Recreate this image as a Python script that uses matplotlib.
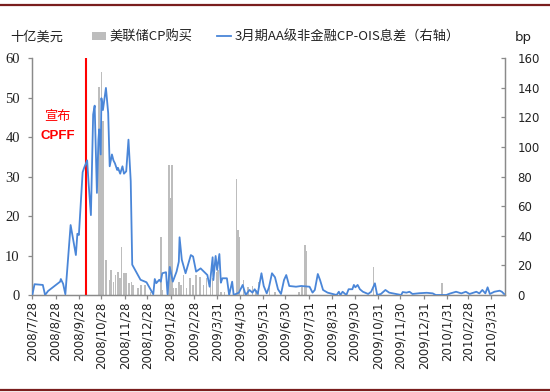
import pandas as pd
import numpy as np
import matplotlib
matplotlib.use('Agg')
import matplotlib.pyplot as plt
from matplotlib.lines import Line2D
from matplotlib.patches import Patch

plt.rcParams['font.family'] = ['Noto Sans CJK SC', 'DejaVu Sans']

# 3月期AA级非金融CP-OIS息差 (bp, 右轴)
spread_dates = [
    '2008-07-28', '2008-07-31', '2008-08-11', '2008-08-14', '2008-08-18', '2008-09-03',
    '2008-09-04', '2008-09-07', '2008-09-10', '2008-09-17', '2008-09-24', '2008-09-26',
    '2008-09-28', '2008-10-03', '2008-10-05', '2008-10-09', '2008-10-11', '2008-10-14',
    '2008-10-17', '2008-10-19', '2008-10-22', '2008-10-24', '2008-10-25', '2008-10-27',
    '2008-10-28', '2008-10-30', '2008-11-03', '2008-11-06', '2008-11-08', '2008-11-11',
    '2008-11-13', '2008-11-15', '2008-11-18', '2008-11-19', '2008-11-22', '2008-11-25',
    '2008-11-27', '2008-11-30', '2008-12-03', '2008-12-06', '2008-12-08', '2008-12-19',
    '2008-12-27', '2009-01-05', '2009-01-07', '2009-01-09', '2009-01-13', '2009-01-15',
    '2009-01-17', '2009-01-22', '2009-01-24', '2009-01-27', '2009-01-31', '2009-02-05',
    '2009-02-08', '2009-02-09', '2009-02-12', '2009-02-17', '2009-02-24', '2009-02-27',
    '2009-03-03', '2009-03-09', '2009-03-18', '2009-03-21', '2009-03-25', '2009-03-26',
    '2009-03-29', '2009-03-31', '2009-04-03', '2009-04-05', '2009-04-07', '2009-04-13',
    '2009-04-16', '2009-04-20', '2009-04-22', '2009-04-29', '2009-05-04', '2009-05-08',
    '2009-05-13', '2009-05-17', '2009-05-20', '2009-05-24', '2009-05-29', '2009-06-01',
    '2009-06-05', '2009-06-08', '2009-06-12', '2009-06-16', '2009-06-20', '2009-06-24',
    '2009-06-28', '2009-07-01', '2009-07-05', '2009-07-14', '2009-07-21', '2009-08-01',
    '2009-08-05', '2009-08-08', '2009-08-12', '2009-08-15', '2009-08-19', '2009-08-25',
    '2009-09-06', '2009-09-09', '2009-09-11', '2009-09-14', '2009-09-19', '2009-09-22',
    '2009-09-27', '2009-09-29', '2009-10-01', '2009-10-04', '2009-10-07', '2009-10-11',
    '2009-10-18', '2009-10-22', '2009-10-27', '2009-10-30', '2009-11-04', '2009-11-10',
    '2009-11-15', '2009-11-24', '2009-12-01', '2009-12-03', '2009-12-08', '2009-12-12',
    '2009-12-16', '2009-12-25', '2010-01-04', '2010-01-12', '2010-01-16', '2010-01-30',
    '2010-02-04', '2010-02-12', '2010-02-19', '2010-02-25', '2010-03-02', '2010-03-11',
    '2010-03-15', '2010-03-19', '2010-03-23', '2010-03-26', '2010-03-29', '2010-04-04',
    '2010-04-11', '2010-04-14', '2010-04-17',
]
spread_bp = [
    0, 7.3, 6.8, 0, 2.7, 9.0,
    10.8, 7.6, 0.5, 47.3, 27, 41.4,
    40.6, 83, 86, 91, 75, 54,
    122, 128, 69, 105, 112, 95,
    133, 125, 140, 123, 87, 95,
    91, 89, 84.5, 86, 82, 87,
    82, 83.6, 105, 77, 20.5, 10.3,
    8.6, 0.5, 10.8, 8, 10.3, 9,
    14.7, 15.4, 0.5, 19, 9, 15.8,
    22.5, 39, 23.8, 14.7, 27, 26,
    15.8, 18, 13.5, 5.6, 25.5, 10.1,
    26.4, 17, 27.7, 8.3, 11.3, 11.3,
    0, 9, 0, 1.6, 6.8, 0,
    3.4, 1.6, 3.9, 0.7, 14.7, 6.1,
    1.1, 5.2, 14.7, 12, 3.9, 0.7,
    10.1, 13.5, 6.1, 5.6, 6.1, 5.6,
    1.6, 3.4, 14.2, 10.1, 3.4, 1.6,
    0, 2.2, 0, 2.2, 0, 3.9,
    3.9, 6.8, 5.2, 6.8, 3.9, 2.2,
    0.7, 2.2, 7.9, 0, 0.7, 3.4,
    1.6, 0.7, 0, 2, 1.6, 2.2,
    0.7, 1.2, 1.5, 1.1, 0, 0,
    1, 2.2, 1.1, 2.2, 0.7, 2.2,
    1.1, 3.4, 1.1, 5.2, 0.7, 2.2,
    2.9, 2.2, 0.7,
]

# 美联储CP购买 (十亿美元, 左轴)
cp_dates = [
    '2008-10-25', '2008-10-27', '2008-10-28', '2008-10-30', '2008-10-31', '2008-11-03',
    '2008-11-04', '2008-11-08', '2008-11-10', '2008-11-13', '2008-11-16', '2008-11-19',
    '2008-11-22', '2008-11-24', '2008-11-27', '2008-11-30', '2008-12-04', '2008-12-07',
    '2008-12-09', '2008-12-16', '2008-12-20', '2008-12-25', '2009-01-01', '2009-01-15',
    '2009-01-17', '2009-01-26', '2009-01-28', '2009-01-30', '2009-02-01', '2009-02-04',
    '2009-02-08', '2009-02-11', '2009-02-14', '2009-02-18', '2009-02-23', '2009-02-27',
    '2009-03-03', '2009-03-08', '2009-03-13', '2009-03-17', '2009-03-22', '2009-03-25',
    '2009-03-30', '2009-04-01', '2009-04-05', '2009-04-10', '2009-04-26', '2009-04-28',
    '2009-04-30', '2009-05-05', '2009-05-11', '2009-05-17', '2009-05-22', '2009-05-25',
    '2009-06-09', '2009-06-16', '2009-07-18', '2009-07-22', '2009-07-26', '2009-07-28',
    '2009-10-25', '2010-01-24',
]
cp_bn = [
    52.8, 40, 56.6, 44, 26, 8.9,
    5.9, 3.8, 6.3, 3.4, 5.1, 5.9,
    4.2, 12.2, 5.5, 5.5, 3, 3.4,
    2.5, 1.7, 2.5, 2.5, 0.8, 14.8,
    1.3, 33, 24.5, 33, 1.7, 1.7,
    3.4, 2.5, 5.1, 1.7, 4.2, 2.5,
    5.1, 4.6, 2.5, 4.2, 5.1, 4.2,
    5.9, 6.3, 0.8, 0.8, 29.3, 16.5,
    14.8, 3.8, 2.1, 2.3, 1.3, 3.4,
    1.7, 0.8, 0.8, 2.1, 12.8, 11.2,
    7, 3,
]

tick_labels = [
    '2008/7/28', '2008/8/28', '2008/9/28', '2008/10/28', '2008/11/28', '2008/12/28',
    '2009/1/28', '2009/2/28', '2009/3/31', '2009/4/30', '2009/5/31', '2009/6/30',
    '2009/7/31', '2009/8/31', '2009/9/30', '2009/10/31', '2009/11/30', '2009/12/31',
    '2010/1/31', '2010/2/28', '2010/3/31',
]
cpff_date = '2008-10-07'

gray = '#bdbdbd'
blue = '#4a86d8'
axis_col = '#8a8a8a'

spread_x = pd.to_datetime(spread_dates)
cp_x = pd.to_datetime(cp_dates)
tick_x = pd.to_datetime(tick_labels, format='%Y/%m/%d')

fig = plt.figure(figsize=(5.5, 3.92), dpi=100)
ax = fig.add_axes([32.3 / 550, 1 - 295 / 392, (504.7 - 32.3) / 550, (295 - 58.3) / 392])
ax2 = ax.twinx()

ax.bar(cp_x, cp_bn, width=2, color=gray, linewidth=0, zorder=2)
ax.axvline(pd.Timestamp(cpff_date), color='red', lw=1.5, zorder=3)
ax2.plot(spread_x, spread_bp, color=blue, lw=1.3, zorder=4)

ax.set_xlim(pd.Timestamp('2008-07-28'), pd.Timestamp('2010-04-17 18:00'))
ax.set_ylim(0, 60)
ax.set_yticks(np.arange(0, 61, 10))
ax2.set_ylim(0, 160)
ax2.set_yticks(np.arange(0, 161, 20))

ax.set_xticks(tick_x)
ax.set_xticklabels(tick_labels, rotation=90, fontsize=8.5, family='DejaVu Sans', color='#222222')
ax.tick_params(axis='x', direction='out', length=3, width=0.9, color=axis_col, pad=1.5)
ax.tick_params(axis='y', direction='out', length=3, width=0.9, color=axis_col, pad=6)
for lab in ax.get_yticklabels():
    lab.set_family('Liberation Serif')
    lab.set_fontsize(10.5)
    lab.set_color('#222222')
ax2.tick_params(axis='y', direction='in', length=3, width=0.9, color=axis_col, pad=9)
for lab in ax2.get_yticklabels():
    lab.set_family('DejaVu Sans')
    lab.set_fontsize(8.5)
    lab.set_color('#222222')

for a in (ax, ax2):
    a.spines['top'].set_visible(False)
    for s in ('left', 'right', 'bottom'):
        a.spines[s].set_color(axis_col)
        a.spines[s].set_linewidth(0.9)

# annotation
ax.text(pd.Timestamp('2008-08-31'), 45.3, '宣布', color='red', fontsize=9.5, ha='center', va='center')
ax.text(pd.Timestamp('2008-08-31'), 40.2, 'CPFF', color='red', fontsize=9.5, fontweight='bold',
        family='Liberation Sans', ha='center', va='center')

# legend row
fig.text(10 / 550, 1 - 37 / 392, '十亿美元', fontsize=9.5, va='center', ha='left', color='#222222')
fig.text(523 / 550, 1 - 37 / 392, 'bp', fontsize=9.5, va='center', ha='center', color='#222222',
         family='DejaVu Sans')
handles = [Patch(facecolor=gray, edgecolor='none'), Line2D([], [], color=blue, lw=1.3)]
labels = ['美联储CP购买', '3月期AA级非金融CP-OIS息差（右轴）']
fig.legend(handles, labels, loc='center left', bbox_to_anchor=(92 / 550, 1 - 37 / 392), ncol=2,
           frameon=False, fontsize=9.5, handlelength=1.05, handleheight=0.55, handletextpad=0.25,
           columnspacing=1.9, borderpad=0, borderaxespad=0, labelcolor='#222222')

# dark red rules at top and bottom
for yy in (4.5, 389.5):
    fig.add_artist(Line2D([0, 1], [1 - yy / 392] * 2, transform=fig.transFigure,
                          color='#7a1e1e', lw=1.6))

fig.savefig('out.png', dpi=100)
